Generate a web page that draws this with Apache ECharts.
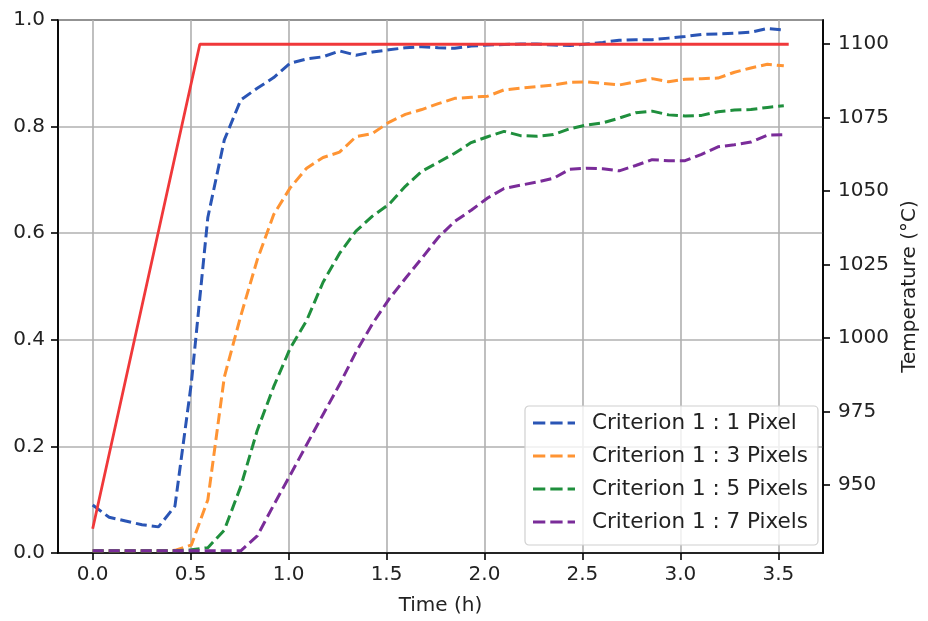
<!DOCTYPE html>
<html>
<head>
<meta charset="utf-8">
<script src="https://cdn.jsdelivr.net/npm/echarts@6/dist/echarts.min.js"></script>
<style>html,body{margin:0;padding:0;background:#fff;overflow:hidden;width:928px;height:621px}#c{width:928px;height:621px}</style>
</head>
<body>
<div id="c"></div>
<script>
var times = [0, 0.084, 0.168, 0.252, 0.336, 0.42, 0.504, 0.588, 0.672, 0.756, 0.84, 0.924, 1.008, 1.092, 1.176, 1.26, 1.344, 1.428, 1.512, 1.596, 1.68, 1.764, 1.848, 1.932, 2.016, 2.1, 2.184, 2.268, 2.352, 2.436, 2.52, 2.604, 2.688, 2.772, 2.856, 2.94, 3.024, 3.108, 3.192, 3.276, 3.36, 3.444, 3.528];
var px1 = [0.090, 0.067, 0.060, 0.053, 0.049, 0.088, 0.32, 0.63, 0.775, 0.85, 0.872, 0.892, 0.919, 0.927, 0.931, 0.942, 0.934, 0.94, 0.944, 0.948, 0.95, 0.948, 0.947, 0.951, 0.953, 0.954, 0.955, 0.955, 0.953, 0.952, 0.955, 0.958, 0.962, 0.963, 0.963, 0.966, 0.969, 0.973, 0.974, 0.975, 0.977, 0.984, 0.981];
var px3 = [0.004, 0.004, 0.004, 0.004, 0.004, 0.005, 0.015, 0.10, 0.33, 0.445, 0.55, 0.635, 0.685, 0.722, 0.742, 0.752, 0.781, 0.787, 0.808, 0.823, 0.832, 0.843, 0.853, 0.855, 0.857, 0.869, 0.872, 0.875, 0.878, 0.883, 0.884, 0.881, 0.878, 0.884, 0.89, 0.884, 0.889, 0.89, 0.891, 0.902, 0.91, 0.917, 0.914];
var px5 = [0.004, 0.004, 0.004, 0.004, 0.004, 0.004, 0.006, 0.01, 0.043, 0.125, 0.23, 0.312, 0.384, 0.436, 0.508, 0.562, 0.604, 0.632, 0.654, 0.688, 0.716, 0.733, 0.75, 0.77, 0.781, 0.791, 0.783, 0.782, 0.785, 0.796, 0.803, 0.807, 0.816, 0.826, 0.829, 0.822, 0.82, 0.821, 0.828, 0.831, 0.832, 0.836, 0.839];
var px7 = [0.004, 0.004, 0.004, 0.004, 0.004, 0.004, 0.004, 0.004, 0.004, 0.004, 0.032, 0.09, 0.146, 0.203, 0.26, 0.316, 0.377, 0.43, 0.476, 0.515, 0.553, 0.592, 0.622, 0.643, 0.666, 0.684, 0.69, 0.696, 0.703, 0.72, 0.722, 0.721, 0.717, 0.727, 0.738, 0.736, 0.736, 0.748, 0.762, 0.766, 0.771, 0.784, 0.785];
var tempTimes = [0, 0.547, 3.553];
var tempValues = [935, 1100, 1100];
var seriesNames = ['Criterion 1 : 1 Pixel', 'Criterion 1 : 3 Pixels', 'Criterion 1 : 5 Pixels', 'Criterion 1 : 7 Pixels'];
var seriesColors = ['#2a55b5', '#ff9433', '#1f8f3d', '#7a2c99'];
var xTicks = [0, 0.5, 1.0, 1.5, 2.0, 2.5, 3.0, 3.5];
var yTicks = [0, 0.2, 0.4, 0.6, 0.8, 1.0];
var tTicks = [950, 975, 1000, 1025, 1050, 1075, 1100];

function pairs(xs, ys) { return xs.map(function (x, i) { return [x, ys[i]]; }); }
var FONT = 'DejaVu Sans';
var dash = [11, 5];
var dashIcon = 'path://M0,0h12.3v3h-12.3z M17.3,0h12.3v3h-12.3z M34.6,0h7.4v3h-7.4z';
var allSeries = [px1, px3, px5, px7].map(function (d, i) {
  return {
    name: seriesNames[i], type: 'line', xAxisIndex: 0, yAxisIndex: 0,
    data: pairs(times, d), symbol: 'none', showSymbol: false,
    lineStyle: { color: seriesColors[i], width: 3, type: dash },
    itemStyle: { color: seriesColors[i] }, z: 3
  };
});
allSeries.push({
  name: 'Temperature', type: 'line', xAxisIndex: 0, yAxisIndex: 1,
  data: pairs(tempTimes, tempValues), symbol: 'none',
  lineStyle: { color: '#f0383a', width: 2.8, type: 'solid' }, z: 4
});

var chart = echarts.init(document.getElementById('c'), null, { renderer: 'canvas', width: 928, height: 621 });
chart.setOption({
  animation: false,
  backgroundColor: '#fff',
  textStyle: { fontFamily: FONT },
  grid: { left: 58, right: 99, top: 20, bottom: 67, containLabel: false, show: true, borderColor: '#000', borderWidth: 1.6, backgroundColor: 'transparent' },
  legend: {
    data: seriesNames.map(function (n) { return { name: n, icon: dashIcon }; }),
    orient: 'vertical', left: 525, top: 406,
    padding: [6, 10, 12, 8],
    itemWidth: 42, itemHeight: 3, itemGap: 11,
    backgroundColor: 'rgba(255,255,255,0.8)', borderColor: '#d0d0d0', borderWidth: 1.2, borderRadius: 4,
    textStyle: { fontFamily: FONT, fontSize: 21.5, lineHeight: 21.5, color: '#222', padding: [0, 0, 0, 12] }
  },
  xAxis: {
    type: 'value', min: -0.177, max: 3.728,
    name: 'Time (h)', nameLocation: 'middle', nameGap: 43,
    nameTextStyle: { fontFamily: FONT, fontSize: 20, color: '#222' },
    axisLine: { show: true, onZero: false, lineStyle: { color: '#000', width: 1.6 } },
    axisTick: { show: true, length: 7, customValues: xTicks, lineStyle: { color: '#000', width: 1.6 } },
    axisLabel: { customValues: xTicks, fontFamily: FONT, fontSize: 20, color: '#222', margin: 12, formatter: function (v) { return v.toFixed(1); } },
    splitLine: { show: true, lineStyle: { color: '#b0b0b0', width: 1.6 } }
  },
  yAxis: [{
    type: 'value', min: 0, max: 1, interval: 0.2, position: 'left',
    axisLine: { show: true, onZero: false, lineStyle: { color: '#000', width: 1.6 } },
    axisTick: { show: true, length: 7, lineStyle: { color: '#000', width: 1.6 } },
    axisLabel: { fontFamily: FONT, fontSize: 20, color: '#222', margin: 13, formatter: function (v) { return v.toFixed(1); } },
    splitLine: { show: true, lineStyle: { color: '#b0b0b0', width: 1.6 } }
  }, {
    type: 'value', min: 926.75, max: 1108.25, position: 'right',
    name: 'Temperature (°C)', nameLocation: 'middle', nameGap: 77, nameRotate: 90,
    nameTextStyle: { fontFamily: FONT, fontSize: 20, color: '#222' },
    axisLine: { show: true, onZero: false, lineStyle: { color: '#000', width: 1.6 } },
    axisTick: { show: true, length: 7, customValues: tTicks, lineStyle: { color: '#000', width: 1.6 } },
    axisLabel: { customValues: tTicks, fontFamily: FONT, fontSize: 20, color: '#222', margin: 15, formatter: function (v) { return String(v); } },
    splitLine: { show: false }
  }],
  series: allSeries
});
</script>
</body>
</html>
